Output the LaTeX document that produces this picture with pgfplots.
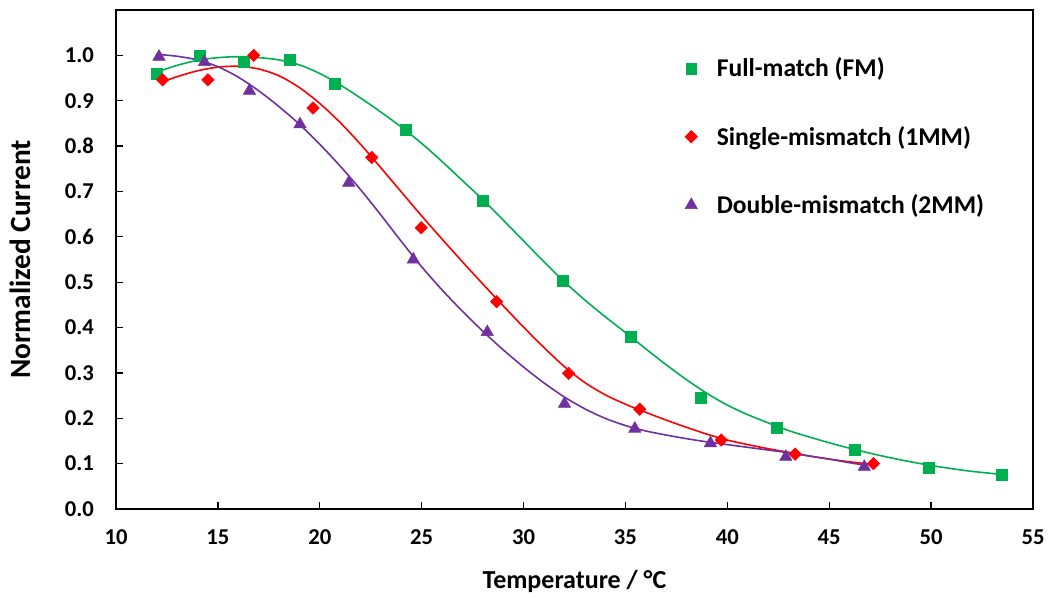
\documentclass[border=0pt]{standalone}
\usepackage{pgfplots}
\pgfplotsset{compat=1.18}
\usepackage{fontspec}
\setmainfont{Carlito}
\definecolor{fmgreen}{HTML}{00B050}
\definecolor{mmred}{HTML}{FF0000}
\definecolor{mmpurple}{HTML}{7030A0}
\begin{document}
\begin{tikzpicture}
\useasboundingbox (-87pt,-66pt) rectangle (700.5pt,381.75pt);
\begin{axis}[
  at={(0pt,0pt)}, anchor=south west,
  scale only axis, width=687.75pt, height=374.25pt,
  xmin=10, xmax=55, ymin=0, ymax=1.1,
  xtick={10,15,...,55}, ytick={0,0.1,0.2,0.3,0.4,0.5,0.6,0.7,0.8,0.9,1.0},
  tick pos=left, tick align=inside, major tick length=5pt,
  axis line style={line width=1.2pt},
  every tick/.style={black, line width=1pt},
  /pgf/number format/assume math mode=true,
  yticklabel style={/pgf/number format/fixed, /pgf/number format/fixed zerofill, /pgf/number format/precision=1, xshift=-13pt},
  xticklabel style={yshift=-12pt},
  ticklabel style={font=\fontsize{17}{20}\selectfont\bfseries},
  xlabel={Temperature / °C}, ylabel={Normalized Current},
  xlabel style={font=\fontsize{19.5}{23}\selectfont\bfseries, at={(axis description cs:0.5,0)}, anchor=center, yshift=-54pt},
  ylabel style={font=\fontsize{22}{26}\selectfont\bfseries, at={(axis description cs:0,0.5)}, anchor=center, yshift=72pt},
  legend style={draw=none, fill=none, at={(0.610,0.918)}, anchor=north west,
    font=\fontsize{19.2}{23}\selectfont\bfseries, row sep=29.5pt,
    nodes={inner sep=3pt}, /tikz/every even column/.append style={column sep=0pt}},
  legend cell align=left,
  legend image code/.code={\draw[#1] plot coordinates {(0.3cm,0cm)}; \path (0cm,0cm) (0.86cm,0cm);},
]
% fitted curves
\addplot[fmgreen, line width=1.2pt, smooth, forget plot] coordinates {
(12,0.963)(13,0.978)(14,0.989)(15,0.995)(16,0.997)(17,0.995)(18,0.990)(19,0.979)(20,0.960)
(21,0.935)(22,0.906)(23,0.875)(24,0.842)(25,0.806)(26,0.766)(27,0.724)(28,0.682)(29,0.637)
(30,0.591)(31,0.545)(32,0.501)(33,0.461)(34,0.424)(35,0.389)(36,0.353)(37,0.318)(38,0.285)
(39,0.255)(40,0.229)(41,0.208)(42,0.190)(43,0.173)(44,0.159)(45,0.146)(46,0.134)(47,0.123)
(48,0.113)(49,0.104)(50,0.096)(51,0.089)(52,0.083)(53.5,0.076)};
\addplot[mmred, line width=1.2pt, smooth, forget plot] coordinates {
(12.3,0.942)(13,0.953)(14,0.966)(15,0.974)(16,0.976)(17,0.970)(18,0.955)(19,0.929)(20,0.894)
(21,0.852)(22,0.804)(23,0.752)(24,0.699)(25,0.646)(26,0.595)(27,0.545)(28,0.496)(29,0.448)
(30,0.401)(31,0.356)(32,0.314)(33,0.279)(34,0.252)(35,0.231)(36,0.213)(37,0.196)(38,0.180)
(39,0.165)(40,0.152)(41,0.142)(42,0.133)(43,0.125)(44,0.117)(45,0.110)(46,0.104)(47.2,0.098)};
\addplot[mmpurple, line width=1.2pt, smooth, forget plot] coordinates {
(12.1,1.002)(13,0.998)(14,0.990)(15,0.975)(16,0.952)(17,0.922)(18,0.887)(19,0.848)(20,0.804)
(21,0.756)(22,0.704)(23,0.648)(24,0.590)(25,0.534)(26,0.483)(27,0.436)(28,0.392)(29,0.351)
(30,0.313)(31,0.278)(32,0.247)(33,0.221)(34,0.200)(35,0.184)(36,0.172)(37,0.163)(38,0.155)
(39,0.148)(40,0.142)(41,0.136)(42,0.130)(43,0.124)(44,0.117)(45,0.110)(46,0.102)(46.7,0.097)};
% data points
\addplot[only marks, mark=square*, mark size=4.1pt, color=fmgreen] coordinates {
(11.98,0.960)(14.13,1.000)(16.29,0.985)(18.54,0.990)(20.73,0.938)(24.23,0.836)(28.0,0.680)
(31.93,0.504)(35.27,0.379)(38.68,0.246)(42.43,0.180)(46.25,0.130)(49.88,0.090)(53.46,0.076)};
\addlegendentry{Full-match (FM)}
\addplot[only marks, mark=square*, mark options={rotate=45}, mark size=3.3pt, color=mmred] coordinates {
(12.29,0.946)(14.51,0.946)(16.76,1.000)(19.67,0.884)(22.55,0.775)(24.98,0.620)(28.68,0.457)
(32.21,0.299)(35.70,0.220)(39.70,0.152)(43.33,0.121)(47.17,0.100)};
\addlegendentry{Single-mismatch (1MM)}
\addplot[only marks, mark=triangle*, mark size=5.3pt, color=mmpurple] coordinates {
(12.11,0.997)(14.34,0.985)(16.55,0.922)(19.03,0.848)(21.42,0.719)(24.59,0.550)(28.22,0.390)
(32.01,0.232)(35.46,0.177)(39.17,0.145)(42.87,0.115)(46.72,0.093)};
\addlegendentry{Double-mismatch (2MM)}
\end{axis}
\end{tikzpicture}
\end{document}
